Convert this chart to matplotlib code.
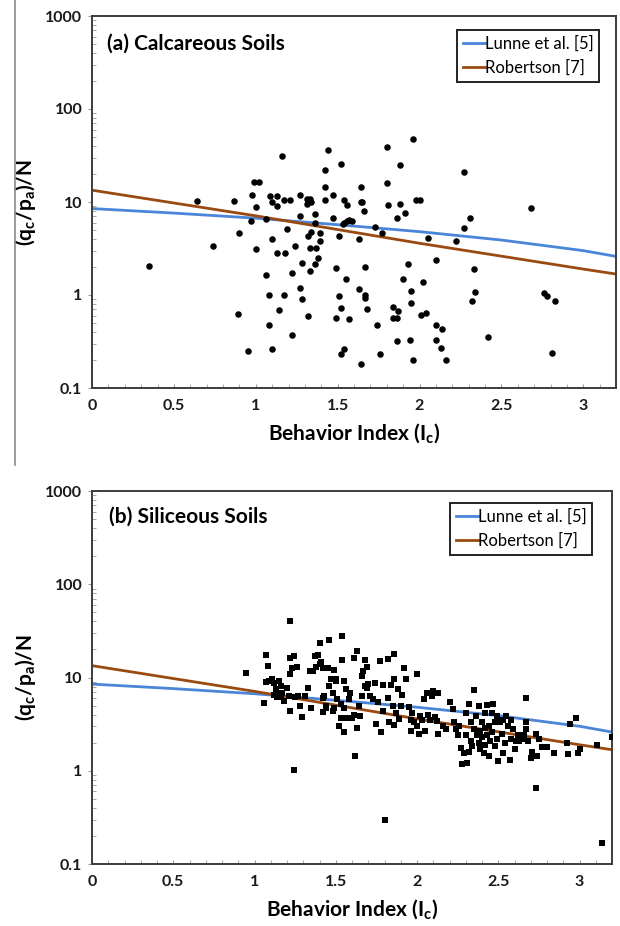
import matplotlib
matplotlib.use('Agg')
import matplotlib.pyplot as plt
from matplotlib.lines import Line2D
from matplotlib.ticker import MultipleLocator, LogLocator

plt.rcParams['font.family'] = ['Lato', 'DejaVu Sans']
plt.rcParams['mathtext.fontset'] = 'custom'
plt.rcParams['mathtext.rm'] = 'Lato'
plt.rcParams['mathtext.bf'] = 'Lato:bold'

# Correlation curves, (qc/pa)/N vs Ic
lunne_ic = [0.0, 0.5, 1.0, 1.5, 2.0, 2.5, 3.0, 3.2]
lunne_ratio = [8.5, 7.6, 6.7, 5.7, 4.8, 3.9, 3.0, 2.6]
rob_ic = [0.0, 1.0, 2.0, 3.0, 3.2]
rob_ratio = [13.4, 7.1, 3.6, 1.9, 1.68]

x_ticks = [0, 0.5, 1, 1.5, 2, 2.5, 3]
x_labels = ['0', '0.5', '1', '1.5', '2', '2.5', '3']
y_ticks = [0.1, 1, 10, 100, 1000]
y_labels = ['0.1', '1', '10', '100', '1000']

# (a) calcareous soils
calc_ic = [0.35, 0.64, 0.74, 0.87, 0.89, 0.90, 0.95, 0.97, 0.98, 0.99, 1.02, 1.00,
           1.00, 1.06, 1.06, 1.08, 1.08, 1.09, 1.10, 1.10, 1.10, 1.13, 1.13, 1.13,
           1.14, 1.16, 1.17, 1.17, 1.18, 1.19, 1.21, 1.22, 1.22, 1.24, 1.27, 1.27,
           1.28, 1.27, 1.28, 1.31, 1.31, 1.32, 1.33, 1.34, 1.32, 1.32, 1.33, 1.33,
           1.34, 1.36, 1.36, 1.36, 1.37, 1.38, 1.39, 1.39, 1.42, 1.42, 1.42, 1.44,
           1.47, 1.47, 1.49, 1.49, 1.51, 1.51, 1.52, 1.52, 1.52, 1.53, 1.54, 1.54,
           1.54, 1.55, 1.56, 1.56, 1.57, 1.57, 1.59, 1.63, 1.63, 1.64, 1.64, 1.64,
           1.65, 1.66, 1.67, 1.67, 1.67, 1.68, 1.73, 1.74, 1.76, 1.77, 1.80, 1.80,
           1.81, 1.84, 1.84, 1.86, 1.86, 1.86, 1.87, 1.88, 1.88, 1.90, 1.91, 1.93,
           1.94, 1.95, 1.95, 1.96, 1.96, 1.98, 2.00, 2.01, 2.02, 2.04, 2.05, 2.10,
           2.10, 2.10, 2.13, 2.14, 2.16, 2.22, 2.27, 2.27, 2.31, 2.33, 2.32, 2.34,
           2.42, 2.68, 2.76, 2.78, 2.81, 2.83]
calc_ratio = [2.07, 10.3, 3.4, 10.3, 0.63, 4.65, 0.25, 6.2, 12.0, 16.5, 16.5, 8.8,
              3.1, 6.6, 1.63, 0.99, 0.47, 11.7, 4.0, 10.0, 0.26, 11.7, 9.0, 2.8,
              0.69, 31.0, 10.5, 1.0, 2.8, 5.1, 10.5, 1.74, 0.37, 3.4, 12.0, 7.0,
              2.2, 1.18, 0.9, 9.5, 10.8, 10.5, 10.8, 10.0, 4.3, 0.59, 3.2, 1.83,
              4.8, 5.9, 2.16, 7.4, 3.2, 2.5, 4.6, 3.8, 10.6, 22.0, 14.4, 36.0,
              12.0, 6.7, 1.94, 0.57, 0.98, 4.3, 0.73, 0.23, 25.6, 5.8, 6.0, 0.26,
              10.6, 1.47, 6.2, 9.2, 0.55, 6.4, 6.3, 1.15, 4.0, 14.4, 10.0, 0.18,
              10.0, 8.0, 1.0, 0.93, 2.0, 0.70, 5.4, 0.47, 0.23, 4.6, 39.0, 16.0,
              9.3, 0.74, 0.57, 0.57, 0.32, 6.7, 0.67, 25.0, 9.5, 1.47, 7.7, 2.13,
              0.33, 0.82, 1.1, 47.0, 0.20, 10.6, 10.5, 0.61, 1.37, 0.64, 4.1, 0.33,
              0.48, 2.4, 0.27, 0.43, 0.20, 3.8, 21.0, 5.2, 6.8, 1.9, 0.86, 1.08,
              0.35, 8.7, 1.05, 0.98, 0.24, 0.86]

# (b) siliceous soils
sil_ic = [0.95, 1.07, 1.06, 1.08, 1.07, 1.09, 1.11, 1.12, 1.13, 1.13,
          1.14, 1.15, 1.16, 1.16, 1.17, 1.20, 1.21, 1.22, 1.22, 1.22,
          1.24, 1.23, 1.22, 1.24, 1.25, 1.26, 1.27, 1.28, 1.29, 1.31,
          1.33, 1.34, 1.35, 1.36, 1.37, 1.39, 1.38, 1.40, 1.40, 1.41,
          1.42, 1.42, 1.43, 1.44, 1.45, 1.46, 1.46, 1.47, 1.48, 1.49,
          1.50, 1.49, 1.50, 1.51, 1.52, 1.53, 1.54, 1.54, 1.55, 1.55,
          1.55, 1.56, 1.57, 1.58, 1.59, 1.60, 1.61, 1.62, 1.63, 1.63,
          1.64, 1.65, 1.66, 1.66, 1.67, 1.68, 1.68, 1.69, 1.69, 1.70,
          1.71, 1.73, 1.74, 1.75, 1.76, 1.77, 1.78, 1.79, 1.79, 1.80,
          1.82, 1.82, 1.83, 1.84, 1.85, 1.86, 1.86, 1.87, 1.88, 1.89,
          1.90, 1.91, 1.92, 1.93, 1.95, 1.96, 1.96, 1.97, 1.98, 2.00,
          2.00, 2.01, 2.02, 2.03, 2.04, 2.05, 2.06, 2.07, 2.08, 2.09,
          2.10, 2.12, 2.13, 2.13, 2.16, 2.18, 2.20, 2.22, 2.23, 2.24,
          2.25, 2.26, 2.27, 2.28, 2.29, 2.30, 2.30, 2.31, 2.32, 2.32,
          2.33, 2.33, 2.34, 2.35, 2.35, 2.36, 2.37, 2.38, 2.38, 2.39,
          2.39, 2.40, 2.40, 2.41, 2.42, 2.42, 2.42, 2.43, 2.43, 2.44,
          2.44, 2.45, 2.46, 2.46, 2.47, 2.48, 2.48, 2.49, 2.49, 2.50,
          2.51, 2.52, 2.53, 2.53, 2.54, 2.55, 2.56, 2.57, 2.58, 2.58,
          2.59, 2.60, 2.61, 2.62, 2.63, 2.65, 2.66, 2.67, 2.67, 2.67,
          2.68, 2.70, 2.71, 2.73, 2.73, 2.74, 2.75, 2.77, 2.80, 2.84,
          2.92, 2.93, 2.94, 2.98, 2.99, 3.00, 3.11, 3.14, 3.20, 1.42,
          1.44, 1.12, 1.18, 1.48, 1.53, 1.61, 1.86, 2.11]
sil_ratio = [11.1, 17.5, 5.3, 13.3, 8.95, 9.2, 9.6, 8.8, 7.5, 6.9,
             6.2, 9.2, 8.1, 6.2, 6.9, 7.8, 6.3, 4.4, 40.0, 16.2,
             17.0, 12.8, 10.9, 1.03, 6.2, 13.0, 6.3, 4.9, 3.8, 6.3,
             7.8, 11.6, 4.7, 11.8, 17.0, 17.6, 13.0, 23.5, 13.8, 14.5,
             12.8, 6.0, 6.3, 4.7, 12.8, 25.5, 8.1, 9.6, 6.9, 12.0,
             9.2, 4.7, 9.6, 5.9, 3.0, 3.7, 27.7, 15.3, 9.2, 4.7,
             2.6, 7.5, 3.7, 5.9, 6.9, 3.7, 16.0, 1.44, 2.9, 19.3,
             4.9, 3.9, 6.3, 10.3, 11.7, 15.5, 8.1, 13.0, 7.8, 8.6,
             6.3, 5.9, 8.8, 3.2, 5.4, 15.1, 2.6, 8.4, 4.4, 0.30,
             15.8, 6.1, 3.3, 8.3, 4.9, 18.0, 9.6, 4.2, 7.5, 3.6,
             4.9, 6.5, 12.8, 9.6, 4.8, 3.5, 2.7, 4.2, 3.3, 10.9,
             3.0, 2.45, 3.9, 3.5, 5.9, 2.7, 6.9, 4.0, 3.5, 6.3,
             7.2, 3.4, 2.5, 6.9, 3.0, 2.8, 5.5, 4.6, 3.3, 2.8,
             2.4, 3.0, 1.76, 1.17, 1.55, 4.2, 2.4, 1.2, 5.2, 1.58,
             3.3, 2.1, 1.85, 7.3, 2.8, 3.9, 2.4, 4.9, 2.0, 2.7,
             1.7, 3.3, 2.3, 1.55, 2.9, 1.9, 4.2, 2.4, 5.1, 1.44,
             3.0, 2.1, 4.2, 2.6, 5.2, 3.3, 1.85, 3.9, 2.2, 1.27,
             3.3, 2.5, 1.55, 3.5, 2.0, 3.9, 3.0, 1.3, 3.5, 2.2,
             2.8, 1.72, 2.1, 2.4, 2.1, 2.2, 2.4, 6.0, 3.3, 2.8,
             2.1, 1.37, 1.6, 0.65, 2.5, 1.44, 2.2, 1.8, 1.8, 1.55,
             2.0, 1.5, 3.2, 3.7, 1.55, 1.7, 1.9, 0.168, 2.3, 4.3,
             5.0, 6.5, 5.6, 4.4, 5.2, 4.0, 3.1, 3.8]

blue = '#4a85d8'
brown = '#9a4a10'
spine_col = '#3c3c3c'
tick_col = '#9a9a9a'

fig = plt.figure(figsize=(6.2, 9.26), dpi=100)

# thin rule at the left edge of the upper panel
fig.add_artist(Line2D([15 / 620, 15 / 620], [1.0, 1 - 465 / 926],
                      color='#8a8a8a', lw=1.2))


def style_axes(ax, title, title_xy, legend_xy):
    ax.set_yscale('log')
    ax.set_xlim(0, 3.2)
    ax.set_ylim(0.1, 1000)
    for sp in ax.spines.values():
        sp.set_color(spine_col)
        sp.set_linewidth(1.4)
    ax.set_xticks(x_ticks, x_labels)
    ax.set_yticks(y_ticks, y_labels)
    ax.xaxis.set_minor_locator(MultipleLocator(0.1))
    ax.yaxis.set_minor_locator(LogLocator(base=10, subs=range(2, 10)))
    ax.tick_params(axis='x', which='both', direction='in', length=3,
                   color=tick_col, labelsize=11.5, pad=8)
    ax.tick_params(axis='y', which='major', direction='out', length=3,
                   color=tick_col, labelsize=11.5, pad=4)
    ax.tick_params(axis='y', which='minor', direction='in', length=3,
                   color=tick_col)
    for lab in ax.get_xticklabels() + ax.get_yticklabels():
        lab.set_fontweight('bold')
        lab.set_color('#1a1a1a')
    ax.set_xlabel(r'Behavior Index (I$_\mathbf{c}$)', fontsize=15,
                  fontweight='bold', labelpad=6)
    ax.set_ylabel(r'(q$_\mathbf{c}$/p$_\mathbf{a}$)/N', fontsize=15,
                  fontweight='bold', labelpad=5)
    ax.text(title_xy[0], title_xy[1], title, transform=ax.transAxes,
            fontsize=15, fontweight='bold', va='center', ha='left')
    ax.plot(lunne_ic, lunne_ratio, color=blue, lw=2.0, label='Lunne et al. [5]')
    ax.plot(rob_ic, rob_ratio, color=brown, lw=2.0, label='Robertson [7]')
    leg = ax.legend(loc='upper right', bbox_to_anchor=legend_xy,
                    fontsize=12, handlelength=1.3, handletextpad=0.0,
                    borderpad=0.35, labelspacing=0.45, fancybox=False,
                    framealpha=1, edgecolor='#222222', borderaxespad=0)
    leg.get_frame().set_linewidth(1.4)


ax1 = fig.add_axes([92 / 620, 1 - 388 / 926, 524 / 620, 372 / 926])
ax1.scatter(calc_ic, calc_ratio, s=22, c='black', marker='o', zorder=3,
            linewidths=0)
style_axes(ax1, '(a) Calcareous Soils', (0.028, 0.925), (0.968, 0.962))

ax2 = fig.add_axes([92 / 620, 1 - 864 / 926, 520 / 620, 373 / 926])
ax2.scatter(sil_ic, sil_ratio, s=13, c='black', marker='s', zorder=3,
            linewidths=0)
style_axes(ax2, '(b) Siliceous Soils', (0.033, 0.932), (0.962, 0.968))

fig.savefig('out.png', dpi=100)
